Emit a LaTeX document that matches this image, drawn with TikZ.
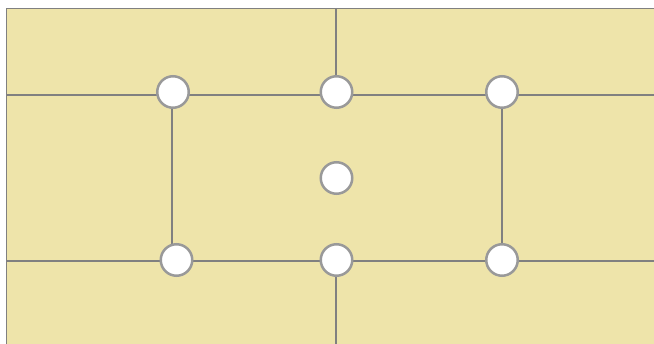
\documentclass[tikz,border=0pt]{standalone}
\usetikzlibrary{calc}
\definecolor{bgyellow}{HTML}{EEE4AA}
\definecolor{linegray}{HTML}{808080}
\definecolor{ringgray}{HTML}{999999}
\begin{document}
\begin{tikzpicture}[x=1pt,y=-1pt,
  gridline/.style={draw=linegray,line width=1.3pt},
  dot/.style={circle,draw=ringgray,line width=2.5pt,fill=white,minimum size=31.5pt,inner sep=0pt}]
\useasboundingbox (0,0) rectangle (654,344);
\fill[bgyellow] (6,8) rectangle (654,344);
% frame corners
\coordinate (c0) at (6.5,344);
\coordinate (c1) at (6.5,8.5);
\coordinate (c2) at (654,8.5);
\draw[gridline] (c0) -- (c1) -- (c2);
% horizontal lines
\coordinate (h1l) at (6,95);
\coordinate (h1r) at (654,95);
\coordinate (h2l) at (6,261);
\coordinate (h2r) at (654,261);
\draw[gridline] (h1l) -- (h1r);
\draw[gridline] (h2l) -- (h2r);
% vertical lines
\coordinate (vt1) at (336,8);
\coordinate (vt2) at (336,92);
\coordinate (vb1) at (336,260);
\coordinate (vb2) at (336,344);
\coordinate (vl1) at (172,92);
\coordinate (vl2) at (172,260);
\coordinate (vr1) at (502,92);
\coordinate (vr2) at (502,260);
\draw[gridline] (vt1) -- (vt2);
\draw[gridline] (vb1) -- (vb2);
\draw[gridline] (vl1) -- (vl2);
\draw[gridline] (vr1) -- (vr2);
% dots
\node[dot] (tl) at (173,92) {};
\node[dot] (tm) at (336.5,92) {};
\node[dot] (tr) at (502,92) {};
\node[dot] (cc) at (336.5,178) {};
\node[dot] (bl) at (176.5,260) {};
\node[dot] (bm) at (336.5,260) {};
\node[dot] (br) at (502,260) {};
\end{tikzpicture}
\end{document}
